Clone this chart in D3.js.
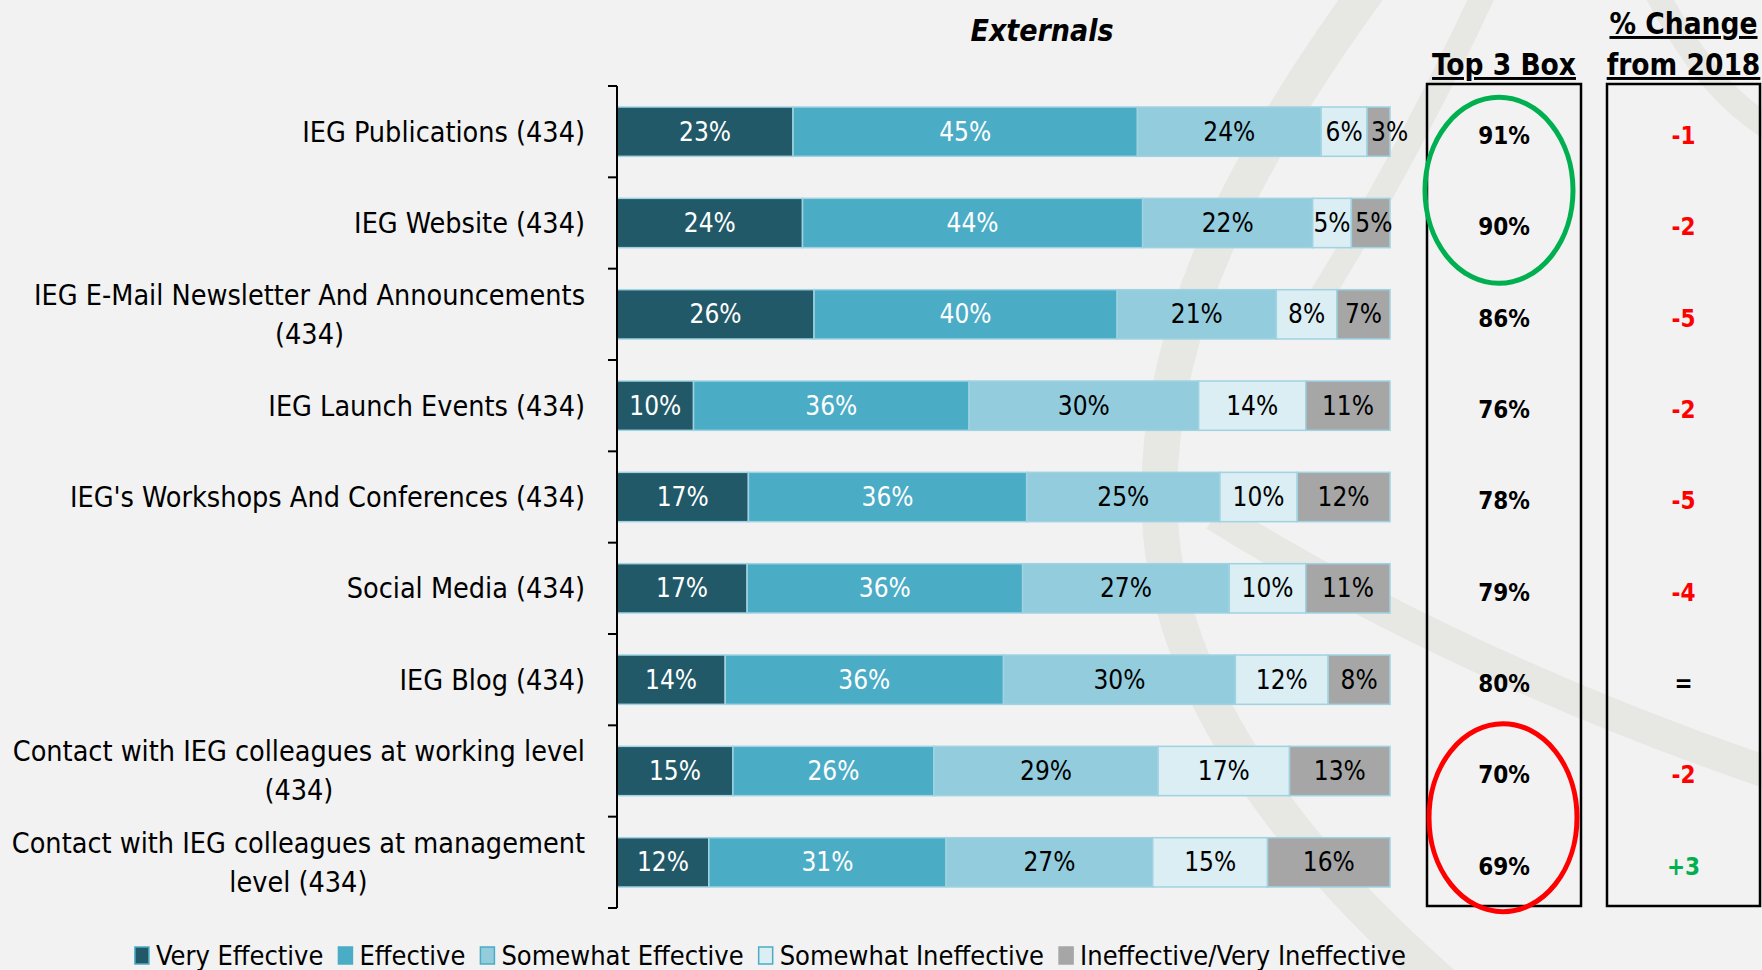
<!DOCTYPE html>
<html>
<head>
<meta charset="utf-8">
<script src="https://cdn.jsdelivr.net/npm/d3@7"></script>
<style>
  html, body { margin: 0; padding: 0; background: #f2f2f2; }
  svg { display: block; }
  text { font-family: "DejaVu Sans Condensed", "DejaVu Sans", sans-serif; }
</style>
</head>
<body>
<svg id="chart"></svg>
<script>
const width = 1762;
const height = 970;

// data
const categories = [
    "IEG Publications (434)",
    "IEG Website (434)",
    "IEG E-Mail Newsletter And Announcements\n(434)",
    "IEG Launch Events (434)",
    "IEG's Workshops And Conferences (434)",
    "Social Media (434)",
    "IEG Blog (434)",
    "Contact with IEG colleagues at working level\n(434)",
    "Contact with IEG colleagues at management\nlevel (434)"
];
const seriesNames = ["Very Effective", "Effective", "Somewhat Effective", "Somewhat Ineffective", "Ineffective/Very Ineffective"];
const veryEffective = [23, 24, 26, 10, 17, 17, 14, 15, 12];
const effective = [45, 44, 40, 36, 36, 36, 36, 26, 31];
const somewhatEffective = [24, 22, 21, 30, 25, 27, 30, 29, 27];
const somewhatIneffective = [6, 5, 8, 14, 10, 10, 12, 17, 15];
const ineffective = [3, 5, 7, 11, 12, 11, 8, 13, 16];
const top3Box = ["91%", "90%", "86%", "76%", "78%", "79%", "80%", "70%", "69%"];
const changeFrom2018 = ["-1", "-2", "-5", "-2", "-5", "-4", "=", "-2", "+3"];

const colors = ["#215968", "#4bacc6", "#93cddd", "#daeef3", "#a6a6a6"];
const labelColors = ["#ffffff", "#ffffff", "#000000", "#000000", "#000000"];

const seriesValues = [veryEffective, effective, somewhatEffective, somewhatIneffective, ineffective];
const rows = categories.map((c, i) => {
    const r = { cat: c };
    seriesNames.forEach((s, j) => r[s] = seriesValues[j][i]);
    return r;
});

const svg = d3.select('#chart').attr('width', width).attr('height', height);

// faint watermark swirl behind everything
const wm = svg.append('g').attr('fill', 'none').attr('stroke', '#e7e7e3');
wm.append('path').attr('stroke-width', 36)
    .attr('d', 'M1375,-20 C1250,150 1150,330 1160,520 C1170,700 1300,860 1450,990');
wm.append('path').attr('stroke-width', 32)
    .attr('d', 'M1215,515 C1350,600 1550,700 1790,780');
wm.append('path').attr('stroke-width', 24)
    .attr('d', 'M1490,-20 C1430,110 1370,220 1300,330');
wm.append('path').attr('stroke-width', 24)
    .attr('d', 'M1650,-20 C1690,60 1730,110 1790,140');

const x = d3.scaleLinear().domain([0, 1]).range([617, 1390]);
const y = d3.scaleBand().domain(categories).range([86, 908]).paddingInner(0.46).paddingOuter(0.23);

const stack = d3.stack().keys(seriesNames).offset(d3.stackOffsetExpand);
const stacked = stack(rows);

const layers = svg.append('g').selectAll('g')
    .data(stacked)
    .join('g')
    .attr('fill', (d, i) => colors[i]);

layers.selectAll('rect')
    .data(d => d)
    .join('rect')
    .attr('x', d => x(d[0]))
    .attr('y', d => y(d.data.cat))
    .attr('width', d => x(d[1]) - x(d[0]))
    .attr('height', y.bandwidth())
    .attr('stroke', '#9fd3e2')
    .attr('stroke-width', 1.5);

layers.selectAll('text')
    .data((d, i) => d.map(v => ({ v, i, key: d.key })))
    .join('text')
    .attr('x', d => (x(d.v[0]) + x(d.v[1])) / 2)
    .attr('y', d => y(d.v.data.cat) + y.bandwidth() / 2)
    .attr('dy', '0.35em')
    .attr('text-anchor', 'middle')
    .attr('font-size', 26)
    .attr('fill', d => labelColors[d.i])
    .text(d => d.v.data[d.key] + '%')
    .each(function (d) {
        // narrow end segment: push the label to start just inside it
        const w = this.getComputedTextLength();
        const segW = x(d.v[1]) - x(d.v[0]);
        if (d.i === 4 && w > segW - 4) {
            d3.select(this).attr('text-anchor', 'start').attr('x', x(d.v[0]) + 4);
        }
    });

// category axis
const axisX = 617;
const bandEdges = d3.range(categories.length + 1).map(i => 86 + i * (908 - 86) / categories.length);
svg.append('line')
    .attr('x1', axisX).attr('x2', axisX)
    .attr('y1', 86).attr('y2', 908)
    .attr('stroke', '#000').attr('stroke-width', 2);
svg.append('g').selectAll('line')
    .data(bandEdges)
    .join('line')
    .attr('x1', axisX - 9).attr('x2', axisX)
    .attr('y1', d => d).attr('y2', d => d)
    .attr('stroke', '#000').attr('stroke-width', 2);

const catLabels = svg.append('g').selectAll('text')
    .data(categories)
    .join('text')
    .attr('font-size', 28.5)
    .attr('fill', '#000')
    .attr('text-anchor', 'middle');

catLabels.each(function (c) {
    const t = d3.select(this);
    const lines = c.split('\n');
    const cy = y(c) + y.bandwidth() / 2;
    const lh = 39;
    lines.forEach((ln, k) => {
        t.append('tspan').attr('y', cy + (k - (lines.length - 1) / 2) * lh).attr('dy', '0.35em').text(ln);
    });
    let maxW = 0;
    t.selectAll('tspan').each(function () { maxW = Math.max(maxW, this.getComputedTextLength()); });
    t.selectAll('tspan').attr('x', 585 - maxW / 2);
});

// title
svg.append('text')
    .attr('x', 1042).attr('y', 41)
    .attr('text-anchor', 'middle')
    .attr('font-size', 30)
    .attr('font-weight', 'bold')
    .attr('font-style', 'italic')
    .text('Externals');

// side boxes
const boxes = [
    { x0: 1427, x1: 1581, head: ['Top 3 Box'], vals: top3Box },
    { x0: 1607, x1: 1760, head: ['% Change', 'from 2018'], vals: changeFrom2018 }
];
boxes.forEach(b => {
    svg.append('rect')
        .attr('x', b.x0).attr('y', 84)
        .attr('width', b.x1 - b.x0).attr('height', 822)
        .attr('fill', 'none').attr('stroke', '#000').attr('stroke-width', 2.5);
    const cx = (b.x0 + b.x1) / 2;
    b.head.forEach((h, k) => {
        svg.append('text')
            .attr('x', cx).attr('y', 75 - (b.head.length - 1 - k) * 41)
            .attr('text-anchor', 'middle')
            .attr('font-size', 29.5)
            .attr('font-weight', 'bold')
            .attr('text-decoration', 'underline')
            .text(h);
    });
    svg.append('g').selectAll('text')
        .data(b.vals)
        .join('text')
        .attr('x', cx)
        .attr('y', (d, i) => y(categories[i]) + y.bandwidth() / 2 + 4)
        .attr('dy', '0.35em')
        .attr('text-anchor', 'middle')
        .attr('font-size', 24)
        .attr('font-weight', 'bold')
        .attr('fill', d => d.startsWith('-') ? '#ff0000' : d.startsWith('+') ? '#00b050' : '#000')
        .text(d => d);
});

// highlight ellipses
const midY = (a, b) => (y(categories[a]) + y(categories[b]) + y.bandwidth()) / 2;
svg.append('ellipse')
    .attr('cx', 1499).attr('cy', midY(0, 1) + 13)
    .attr('rx', 74).attr('ry', 93)
    .attr('fill', 'none').attr('stroke', '#00b050').attr('stroke-width', 5);
svg.append('ellipse')
    .attr('cx', 1503).attr('cy', midY(7, 8) + 1)
    .attr('rx', 74).attr('ry', 94)
    .attr('fill', 'none').attr('stroke', '#ff0000').attr('stroke-width', 5);

// legend
const legend = svg.append('g');
let lx = 0;
seriesNames.forEach((s, i) => {
    const g = legend.append('g').attr('transform', `translate(${lx},0)`);
    g.append('rect')
        .attr('x', 1).attr('y', -9).attr('width', 14).attr('height', 17)
        .attr('fill', colors[i])
        .attr('stroke', i < 4 ? '#4bacc6' : colors[i]).attr('stroke-width', 1.5);
    const t = g.append('text')
        .attr('x', 22).attr('dy', '0.35em')
        .attr('font-size', 27)
        .text(s);
    lx += 22 + t.node().getComputedTextLength() + 14;
});
legend.attr('transform', `translate(${770 - (lx - 14) / 2},956)`);
</script>
</body>
</html>
